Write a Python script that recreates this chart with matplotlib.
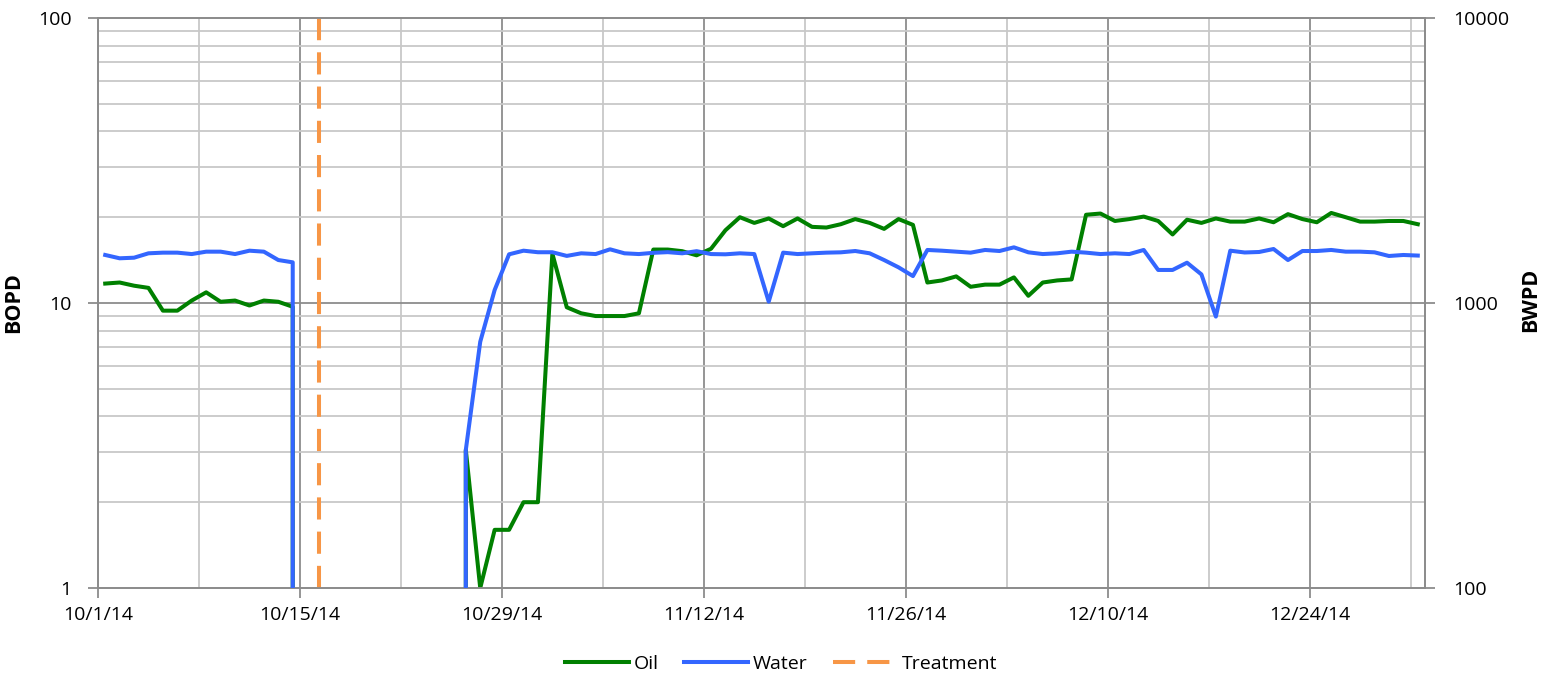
import matplotlib
matplotlib.use("Agg")
import matplotlib.pyplot as plt
import matplotlib.dates as mdates
from matplotlib.ticker import FixedLocator, FuncFormatter, NullLocator
import numpy as np
import pandas as pd

plt.rcParams['font.family'] = ['Open Sans', 'DejaVu Sans']

# daily production, 10/1/14 - 12/31/14 (0 = shut in)
dates = pd.date_range("2014-10-01", "2014-12-31", freq="D")

oil = [11.7, 11.8, 11.5, 11.3, 9.4, 9.4, 10.2, 10.9, 10.1, 10.2, 9.8, 10.2, 10.1, 9.7,
       0, 0, 0, 0, 0, 0, 0, 0, 0, 0, 0,
       3.05, 1.0, 1.6, 1.6, 2.0, 2.0,
       14.9, 9.66, 9.2, 9.0, 9.0, 9.0, 9.2, 15.4, 15.4, 15.2, 14.7, 15.5, 18.0, 20.0, 19.1,
       19.8, 18.6, 19.8, 18.5, 18.4, 18.9, 19.7, 19.1, 18.2, 19.7, 18.8, 11.8, 12.0, 12.4, 11.4,
       11.6, 11.6, 12.3, 10.6, 11.8, 12.0, 12.1, 20.4, 20.6, 19.4, 19.7, 20.1, 19.4, 17.4, 19.6,
       19.1, 19.8, 19.3, 19.3, 19.8, 19.2, 20.5, 19.7, 19.2, 20.7, 20.0, 19.3, 19.3, 19.4, 19.4, 18.9]

water = [1474, 1435, 1442, 1494, 1502, 1502, 1485, 1514, 1514, 1485, 1526, 1514, 1415, 1389,
         0, 0, 0, 0, 0, 0, 0, 0, 0, 0, 0,
         305, 731, 1111, 1482, 1526, 1507,
         1507, 1463, 1494, 1485, 1543, 1494, 1485, 1500, 1508, 1494, 1520, 1485, 1482, 1494, 1485,
         1011, 1502, 1485, 1494, 1502, 1506, 1522, 1494, 1415, 1334, 1243, 1535, 1526, 1514, 1502,
         1535, 1522, 1568, 1506, 1485, 1494, 1514, 1502, 1485, 1494, 1485, 1535, 1306, 1306, 1385,
         1260, 896, 1526, 1504, 1510, 1547, 1415, 1522, 1522, 1535, 1514, 1514, 1506, 1462, 1474, 1467]

treatment_date = pd.Timestamp("2014-10-16 08:00")

# Excel puts each day in the middle of its slot
x = dates + pd.Timedelta(hours=12)

fig = plt.figure(figsize=(15.47, 6.76), dpi=100)
ax = fig.add_axes([98/1547, 1-588/676, (1425-98)/1547, (588-18)/676])
ax2 = ax.twinx()

grid_major = '#8c8c8c'
grid_minor = '#c8c8c8'

ax.set_yscale('log')
ax2.set_yscale('log')
ax.set_ylim(1, 100)
ax2.set_ylim(100, 10000)
ax.set_xlim(pd.Timestamp("2014-10-01"), pd.Timestamp("2015-01-01"))

l1, = ax.plot(x, oil, color='#008000', lw=2.9, label='Oil', zorder=3)
l2, = ax2.plot(x, water, color='#3366ff', lw=2.9, label='Water', zorder=3)
l3 = ax.axvline(treatment_date, color='#f79646', lw=2.9, dashes=(5.5, 3), label='Treatment', zorder=4)

# grid
major_x = pd.date_range("2014-10-01", "2014-12-31", freq="14D")
minor_x = pd.date_range("2014-10-01", "2014-12-31", freq="7D")
for d in minor_x:
    ax.axvline(d, color=grid_major if d in major_x else grid_minor, lw=1.3, zorder=1)
for v in [2, 3, 4, 5, 6, 7, 8, 9, 20, 30, 40, 50, 60, 70, 80, 90]:
    ax.axhline(v, color=grid_minor, lw=1.3, zorder=1)
ax.axhline(10, color=grid_major, lw=1.3, zorder=1)

ax.xaxis.set_major_locator(FixedLocator(mdates.date2num(major_x)))
ax.xaxis.set_major_formatter(FuncFormatter(
    lambda v, p: (lambda d: f"{d.month}/{d.day}/{d.year % 100}")(mdates.num2date(v))))
ax.xaxis.set_minor_locator(NullLocator())

ax.yaxis.set_major_locator(FixedLocator([1, 10, 100]))
ax.yaxis.set_major_formatter(FuncFormatter(lambda v, p: f"{v:g}"))
ax.yaxis.set_minor_locator(NullLocator())
ax2.yaxis.set_major_locator(FixedLocator([100, 1000, 10000]))
ax2.yaxis.set_major_formatter(FuncFormatter(lambda v, p: f"{v:g}"))
ax2.yaxis.set_minor_locator(NullLocator())

for a in (ax, ax2):
    for s in a.spines.values():
        s.set_color(grid_major)
        s.set_linewidth(1.3)
    a.tick_params(axis='both', length=7, width=1.3, color=grid_major, labelsize=14, labelcolor='black')
ax.tick_params(axis='y', pad=12)
ax2.tick_params(axis='y', pad=13)
ax.tick_params(axis='x', pad=6)

ax.set_ylabel('BOPD', fontsize=15.5, fontweight='bold')
ax2.set_ylabel('BWPD', fontsize=15.5, fontweight='bold')
ax.yaxis.set_label_coords(-0.056, 0.5)
ax2.yaxis.set_label_coords(1.072, 0.505)

fig.legend(handles=[l1, l2, l3], loc='center', bbox_to_anchor=(0.505, 1-664/676), ncol=3,
           frameon=False, fontsize=14, handlelength=3.3, columnspacing=1.3, handletextpad=0.25)

fig.savefig('out.png', dpi=100)
